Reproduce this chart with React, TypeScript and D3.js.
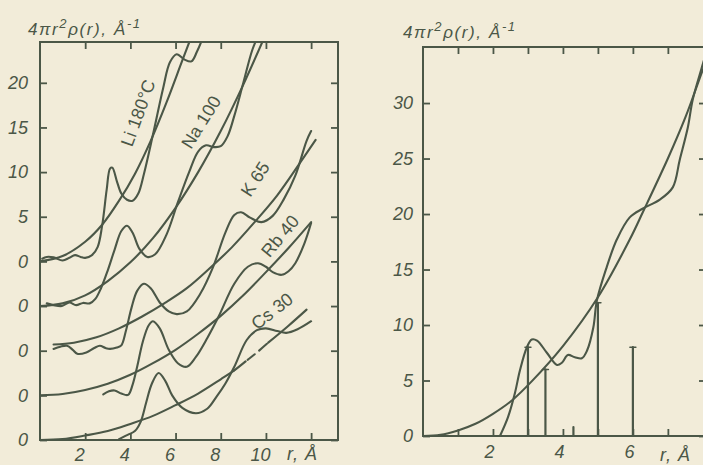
import React, { useEffect, useRef } from 'react';
import * as d3 from 'd3';

type Pt = [number, number];

// ---- left panel: alkali metals, each curve shifted up by its offset ----
const metalNames = ['Li', 'Na', 'K', 'Rb', 'Cs'];
const metalLabels = ['Li 180°C', 'Na 100', 'K 65', 'Rb 40', 'Cs 30'];
const metalOffsets = [20, 15, 10, 5, 0];

const liRdf: Pt[] = [[0.1, 0.3], [0.3, 0.5], [0.6, 0.45], [1.0, 0.1], [1.3, 0.4], [1.55, 0.7], [1.8, 0.5], [2.0, 0.4], [2.3, 0.7], [2.55, 1.6], [2.75, 4.0], [2.95, 8.0], [3.1, 10.4], [3.2, 10.5], [3.4, 9.0], [3.6, 7.6], [3.85, 6.9], [4.1, 6.8], [4.35, 7.6], [4.6, 9.8], [5.0, 14.2], [5.45, 19.4], [5.75, 22.3], [6.05, 23.2], [6.4, 22.6], [6.7, 22.4], [6.95, 23.5], [7.2, 25]];
const naRdf: Pt[] = [[0.3, 0.3], [0.6, 0.1], [0.97, 0.0], [1.3, 0.4], [1.6, 0.1], [1.9, 0.35], [2.2, 0.3], [2.45, 0.8], [2.7, 2.0], [3.0, 4.0], [3.3, 6.3], [3.6, 8.4], [3.85, 9.0], [4.1, 8.2], [4.4, 6.4], [4.75, 5.5], [5.1, 5.8], [5.6, 8.0], [6.1, 11.6], [6.6, 15.0], [7.0, 17.3], [7.35, 18.0], [7.7, 17.8], [8.0, 17.9], [8.3, 19.0], [8.6, 21.3], [9.0, 25.0], [9.4, 28.7], [9.7, 30.5]];
const kRdf: Pt[] = [[0.6, 0.2], [0.9, 0.45], [1.2, 0.55], [1.45, 0.1], [1.65, -0.35], [2.05, -0.2], [2.4, 0.3], [2.65, 0.55], [2.9, 0.3], [3.1, 0.2], [3.4, 0.35], [3.6, 0.6], [3.8, 2.2], [4.05, 4.8], [4.3, 6.7], [4.6, 7.5], [4.9, 7.0], [5.3, 5.4], [5.7, 4.4], [6.05, 4.1], [6.5, 4.4], [7.1, 6.4], [7.65, 9.3], [8.2, 13.2], [8.6, 15.2], [8.9, 15.5], [9.3, 14.9], [9.8, 14.4], [10.3, 15.1], [10.8, 17.0], [11.3, 19.6], [11.8, 23.5], [12.0, 24.6]];
const rbRdf: Pt[] = [[2.8, 0.1], [3.05, 0.45], [3.3, 0.55], [3.6, 0.2], [3.9, 0.05], [4.1, 1.2], [4.3, 3.2], [4.55, 6.0], [4.8, 7.8], [5.0, 8.3], [5.3, 7.5], [5.7, 5.1], [6.1, 3.6], [6.5, 3.2], [6.9, 4.3], [7.4, 6.4], [7.9, 8.8], [8.6, 12.5], [9.2, 14.4], [9.65, 14.8], [10.0, 14.4], [10.3, 13.8], [10.7, 13.5], [11.0, 13.9], [11.3, 14.8], [11.7, 17.0], [12.0, 19.3]];
const csRdf: Pt[] = [[3.5, 0.1], [3.9, 0.6], [4.2, 1.0], [4.45, 2.0], [4.7, 4.2], [4.95, 6.3], [5.25, 7.5], [5.55, 6.6], [5.85, 5.0], [6.3, 3.6], [6.9, 3.0], [7.4, 3.5], [7.8, 4.8], [8.2, 6.3], [8.6, 8.2], [9.15, 11.2], [9.6, 12.3], [10.0, 12.5], [10.5, 12.2], [10.9, 12.0], [11.4, 12.4], [12.0, 13.3]];

// average density curves 4*pi*r^2*rho0
const liMean: Pt[] = [[0, 0], [1, 0.6], [2, 2.2], [2.75, 4.1], [3.5, 6.8], [4.2, 9.8], [4.9, 13.5], [5.6, 17.8], [6.3, 22.5], [6.9, 26.5]];
const naMean: Pt[] = [[0, 0], [1, 0.3], [2, 1.2], [3, 2.8], [4, 4.9], [5, 7.6], [6, 11], [7, 15], [8, 19.6], [9, 24.8], [10, 30.5]];
const kMean: Pt[] = [[0.6, 0.7], [1.5, 0.9], [2.5, 1.5], [3.5, 2.5], [4.5, 3.8], [5.5, 5.3], [6.5, 7.0], [7.5, 9.2], [8.5, 11.6], [9.5, 14.4], [10.5, 17.4], [11.5, 21.0], [12.2, 23.6]];
const rbMean: Pt[] = [[0, 0], [1, 0.15], [2, 0.6], [3, 1.3], [4, 2.3], [5, 3.6], [6, 5.1], [7, 6.9], [8, 8.9], [9, 11.2], [10, 13.8], [11, 16.5], [12, 19.4]];
const csMean: Pt[] = [[0, 0], [1, 0.1], [2, 0.5], [3, 1.0], [4, 1.8], [5, 2.7], [6, 3.9], [7, 5.2], [8, 6.8], [8.6, 7.8], [9.1, 8.8], [9.6, 9.8], [10.1, 10.9], [11, 12.8], [11.8, 14.6]];
const csDashed: Pt = [9.1, 10.1]; // r range where the Cs mean curve is broken

const metalRdfs = [liRdf, naRdf, kRdf, rbRdf, csRdf];
const metalMeans = [liMean, naMean, kMean, rbMean, csMean];

const xTicksL = [2, 4, 6, 8, 10, 12];
const xTickLabelsL = ['2', '4', '6', '8', '10', ''];
const yTicksL = [0, 5, 10, 15, 20, 25, 30, 35, 40];
const yTickLabelsL = ['0', '0', '0', '0', '0', '5', '10', '15', '20'];

// ---- right panel ----
const rightRdf: Pt[] = [[2.2, 0], [2.43, 1.7], [2.63, 3.9], [2.77, 5.9], [2.97, 8.0], [3.11, 8.7], [3.26, 8.6], [3.54, 7.5], [3.83, 6.4], [3.97, 6.6], [4.14, 7.3], [4.34, 7.1], [4.54, 7.0], [4.69, 7.7], [4.87, 9.8], [4.97, 12.2], [5.25, 15.2], [5.54, 17.7], [5.91, 19.7], [6.29, 20.5], [6.77, 21.3], [7.14, 22.4], [7.34, 24.9], [7.57, 27.8], [7.71, 30.3], [7.97, 33.2], [8.1, 34.6]];
const rightMean: Pt[] = [[0, 0], [0.5, 0.1], [1, 0.5], [1.5, 1.1], [2, 2.0], [2.54, 3.2], [3.1, 4.9], [4, 8.1], [5, 12.5], [5.91, 17.7], [6.29, 20.2], [7, 25.0], [7.5, 28.7], [8, 33.0], [8.1, 33.8]];
const stickR = [3.0, 3.5, 5.0, 6.0, 4.3];
const stickH = [8, 6, 12, 8, 0.8];

const xTicksR = [1, 2, 3, 4, 5, 6, 7];
const xTickLabelsR = ['', '2', '', '4', '', '6', ''];
const yTicksR = [0, 5, 10, 15, 20, 25, 30];
const yTickLabelsR = ['0', '5', '10', '15', '20', '25', '30'];

const ink = '#4b5747';
const paper = '#f2ecd9';
const font = '"Liberation Sans", Arial, sans-serif';

const App: React.FC = () => {
  const svgRef = useRef<SVGSVGElement | null>(null);

  useEffect(() => {
    const svg = d3.select(svgRef.current);
    svg.selectAll('*').remove();

    svg.append('rect').attr('width', 703).attr('height', 465).attr('fill', paper);

    const defs = svg.append('defs');
    defs.append('clipPath').attr('id', 'clipL').append('rect')
      .attr('x', 40).attr('y', 42).attr('width', 298).attr('height', 398);
    defs.append('clipPath').attr('id', 'clipR').append('rect')
      .attr('x', 423).attr('y', 47).attr('width', 283).attr('height', 389);

    const styleAxis = (g: d3.Selection<SVGGElement, unknown, null, undefined>) => {
      g.attr('color', ink);
      g.select('.domain').remove();
      g.selectAll('line').attr('stroke-width', 1.8);
      g.selectAll('text')
        .attr('font-size', 18)
        .attr('font-style', 'italic')
        .attr('font-family', font);
    };

    // ================= left panel =================
    const xL = d3.scaleLinear().domain([0, 13.19]).range([40, 338]);
    const yL = d3.scaleLinear().domain([0, 44.57]).range([440, 42]);

    svg.append('g').attr('transform', 'translate(40,0)')
      .call(d3.axisLeft(yL).tickValues(yTicksL).tickSize(-7).tickSizeOuter(0).tickPadding(12)
        .tickFormat((_d, i) => yTickLabelsL[i]))
      .call(styleAxis);
    svg.append('g').attr('transform', 'translate(338,0)')
      .call(d3.axisRight(yL).tickValues(yTicksL).tickSize(-7).tickSizeOuter(0).tickFormat(() => ''))
      .call(styleAxis);
    svg.append('g').attr('transform', 'translate(0,440)')
      .call(d3.axisBottom(xL).tickValues(xTicksL).tickSize(-7).tickSizeOuter(0).tickPadding(8)
        .tickFormat((_d, i) => xTickLabelsL[i]))
      .call(styleAxis)
      .call(g => g.selectAll('text').attr('dx', -6));
    svg.append('g').attr('transform', 'translate(0,42)')
      .call(d3.axisTop(xL).tickValues(xTicksL).tickSize(-7).tickSizeOuter(0).tickFormat(() => ''))
      .call(styleAxis);

    svg.append('rect').attr('x', 40).attr('y', 42).attr('width', 298).attr('height', 398)
      .attr('fill', 'none').attr('stroke', ink).attr('stroke-width', 2);

    const curvesL = svg.append('g').attr('clip-path', 'url(#clipL)')
      .attr('fill', 'none').attr('stroke', ink).attr('stroke-width', 2.1).attr('stroke-linecap', 'round');

    metalNames.forEach((name, i) => {
      const off = metalOffsets[i];
      const line = d3.line<Pt>()
        .x(d => xL(d[0]))
        .y(d => yL(d[1] + off))
        .curve(d3.curveCatmullRom.alpha(0.5));
      const mean = metalMeans[i];
      if (name === 'Cs') {
        const solidA = mean.filter(d => d[0] <= csDashed[0]);
        const mid = mean.filter(d => d[0] >= csDashed[0] - 0.6 && d[0] <= csDashed[1] + 0.6);
        const solidB = mean.filter(d => d[0] >= csDashed[1]);
        curvesL.append('path').attr('d', line(solidA));
        curvesL.append('path').attr('d', line(mid)).attr('stroke-dasharray', '0 17 9 6 10 40');
        curvesL.append('path').attr('d', line(solidB));
      } else {
        curvesL.append('path').attr('d', line(mean));
      }
      curvesL.append('path').attr('d', line(metalRdfs[i]));
    });

    const labelPos: [number, number, number][] = [
      [138, 113, -70], [201, 122, -58], [255, 179, -57], [280, 236, -50], [272, 311, -38],
    ];
    metalLabels.forEach((t, i) => {
      const [cx, cy, a] = labelPos[i];
      svg.append('text')
        .attr('transform', `translate(${cx},${cy}) rotate(${a})`)
        .attr('text-anchor', 'middle').attr('dy', '0.35em')
        .attr('font-size', 18).attr('font-family', font)
        .attr('fill', ink)
        .text(t);
    });

    const title = (x: number, y: number) => {
      const t = svg.append('text').attr('x', x).attr('y', y)
        .attr('font-size', 17).attr('font-style', 'italic').attr('font-family', font)
        .attr('letter-spacing', 1.6).attr('fill', ink);
      t.append('tspan').text('4πr');
      t.append('tspan').attr('dy', -7).attr('font-size', 13).text('2');
      t.append('tspan').attr('dy', 7).text('ρ(r), Å');
      t.append('tspan').attr('dy', -7).attr('font-size', 13).text('-1');
    };
    title(28, 35);

    const rLabel = (x: number, y: number) => {
      svg.append('text').attr('x', x).attr('y', y)
        .attr('font-size', 18).attr('font-style', 'italic').attr('font-family', font)
        .attr('letter-spacing', 1).attr('fill', ink)
        .text('r, Å');
    };
    rLabel(287, 460);

    // ================= right panel =================
    const xR = d3.scaleLinear().domain([0, 8.09]).range([423, 706]);
    const yR = d3.scaleLinear().domain([0, 35.05]).range([436, 47]);

    svg.append('g').attr('transform', 'translate(423,0)')
      .call(d3.axisLeft(yR).tickValues(yTicksR).tickSize(-7).tickSizeOuter(0).tickPadding(10)
        .tickFormat((_d, i) => yTickLabelsR[i]))
      .call(styleAxis);
    svg.append('g').attr('transform', 'translate(706,0)')
      .call(d3.axisRight(yR).tickValues(yTicksR).tickSize(-7).tickSizeOuter(0).tickFormat(() => ''))
      .call(styleAxis);
    svg.append('g').attr('transform', 'translate(0,436)')
      .call(d3.axisBottom(xR).tickValues(xTicksR).tickSize(-7).tickSizeOuter(0).tickPadding(9)
        .tickFormat((_d, i) => xTickLabelsR[i]))
      .call(styleAxis)
      .call(g => g.selectAll('text').attr('dx', -4));
    svg.append('g').attr('transform', 'translate(0,47)')
      .call(d3.axisTop(xR).tickValues(xTicksR).tickSize(-7).tickSizeOuter(0).tickFormat(() => ''))
      .call(styleAxis);

    svg.append('rect').attr('x', 423).attr('y', 47).attr('width', 283).attr('height', 389)
      .attr('fill', 'none').attr('stroke', ink).attr('stroke-width', 2);

    const curvesR = svg.append('g').attr('clip-path', 'url(#clipR)')
      .attr('fill', 'none').attr('stroke', ink).attr('stroke-width', 2.1).attr('stroke-linecap', 'round');
    const lineR = d3.line<Pt>()
      .x(d => xR(d[0]))
      .y(d => yR(d[1]))
      .curve(d3.curveCatmullRom.alpha(0.5));
    curvesR.append('path').attr('d', lineR(rightMean));
    curvesR.append('path').attr('d', lineR(rightRdf));

    stickR.forEach((r, i) => {
      const h = stickH[i];
      curvesR.append('line')
        .attr('x1', xR(r)).attr('x2', xR(r))
        .attr('y1', yR(0)).attr('y2', yR(h))
        .attr('stroke-width', 2.2);
      if (h > 2) {
        curvesR.append('line')
          .attr('x1', xR(r) - 3).attr('x2', xR(r) + 3)
          .attr('y1', yR(h)).attr('y2', yR(h))
          .attr('stroke-width', 1.5);
      }
    });

    title(403, 38);
    rLabel(660, 461);
  }, []);

  return (
    <div>
      <svg ref={svgRef} width={703} height={465} style={{ position: 'absolute', left: 0, top: 0 }} />
    </div>
  );
};

export default App;
